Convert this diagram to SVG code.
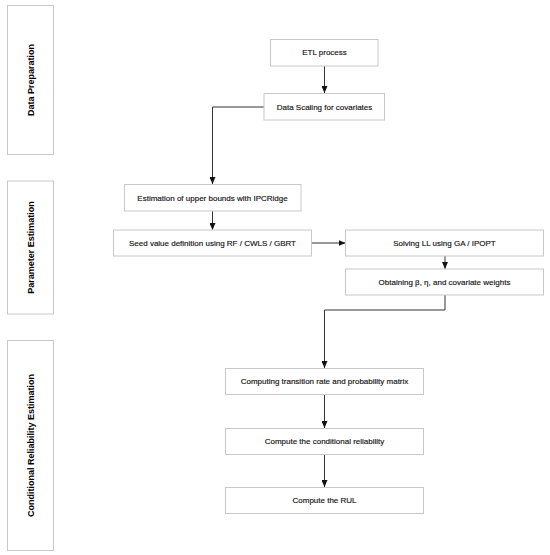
<svg xmlns="http://www.w3.org/2000/svg" width="550" height="555" viewBox="0 0 550 555">
<style>
.lane{fill:#fff;stroke:#c8c8c8;stroke-width:1}
.lt{font-family:"Liberation Sans",Arial,sans-serif;font-size:9px;font-weight:bold;fill:#000;text-anchor:middle;dominant-baseline:central}
.box{fill:#fff;stroke:#c8c8c8;stroke-width:1}
.t{font-family:"Liberation Sans",Arial,sans-serif;font-size:8px;fill:#111;stroke:#111;stroke-width:0.15;text-anchor:middle;dominant-baseline:central}
.c{fill:none;stroke:#333;stroke-width:1}
</style>
<defs>
<marker id="ah" markerWidth="8" markerHeight="6" refX="7" refY="3" orient="auto" markerUnits="userSpaceOnUse">
<path d="M0,0 L7,3 L0,6 Z" fill="#111"/>
</marker>
</defs>
<rect width="550" height="555" fill="#fff"/>
<g id="lane-data-preparation">
<rect class="lane" x="7.5" y="5.5" width="46" height="149"/>
<text class="lt" transform="translate(30.5,80) rotate(-90)">Data Preparation</text>
</g>
<g id="lane-parameter-estimation">
<rect class="lane" x="7.5" y="181" width="46" height="133"/>
<text class="lt" transform="translate(30.5,247.5) rotate(-90)">Parameter Estimation</text>
</g>
<g id="lane-conditional-reliability">
<rect class="lane" x="7.5" y="340.5" width="46" height="210"/>
<text class="lt" transform="translate(30.5,445.5) rotate(-90)">Conditional Reliability Estimation</text>
</g>
<g id="connectors">
<path class="c" d="M324.5,66 V93" marker-end="url(#ah)"/>
<path class="c" d="M264,107 H212.5 V184" marker-end="url(#ah)"/>
<path class="c" d="M212.5,211 V230" marker-end="url(#ah)"/>
<path class="c" d="M311.5,243 H345.5" marker-end="url(#ah)"/>
<path class="c" d="M445,256 V269" marker-end="url(#ah)"/>
<path class="c" d="M445,295 V310 H324.5 V368" marker-end="url(#ah)"/>
<path class="c" d="M324.5,394.5 V428" marker-end="url(#ah)"/>
<path class="c" d="M324.5,454.5 V487" marker-end="url(#ah)"/>
</g>
<g id="etl">
<rect class="box" x="270.5" y="39.5" width="107.5" height="26.5"/>
<text class="t" x="324.5" y="52.7">ETL process</text>
</g>
<g id="scaling">
<rect class="box" x="264" y="93.5" width="120.5" height="26.5"/>
<text class="t" x="324.5" y="107">Data Scaling for covariates</text>
</g>
<g id="upper-bounds">
<rect class="box" x="124.5" y="184.5" width="176.5" height="26.5"/>
<text class="t" x="212.5" y="198">Estimation of upper bounds with IPCRidge</text>
</g>
<g id="seed">
<rect class="box" x="113.5" y="230" width="198" height="26"/>
<text class="t" x="212.5" y="243">Seed value definition using RF / CWLS / GBRT</text>
</g>
<g id="solving">
<rect class="box" x="345.5" y="230" width="198" height="26"/>
<text class="t" x="444.5" y="243">Solving LL using GA / IPOPT</text>
</g>
<g id="obtaining">
<rect class="box" x="345.5" y="269" width="198" height="26"/>
<text class="t" x="444.5" y="282">Obtaining β, η, and covariate weights</text>
</g>
<g id="transition">
<rect class="box" x="225.5" y="368.5" width="198" height="26"/>
<text class="t" x="324.5" y="381.5">Computing transition rate and probability matrix</text>
</g>
<g id="cond-rel">
<rect class="box" x="225.5" y="428.5" width="198" height="26"/>
<text class="t" x="324.5" y="441.5">Compute the conditional reliability</text>
</g>
<g id="rul">
<rect class="box" x="225.5" y="487.5" width="198" height="26"/>
<text class="t" x="324.5" y="500.5">Compute the RUL</text>
</g>
</svg>
